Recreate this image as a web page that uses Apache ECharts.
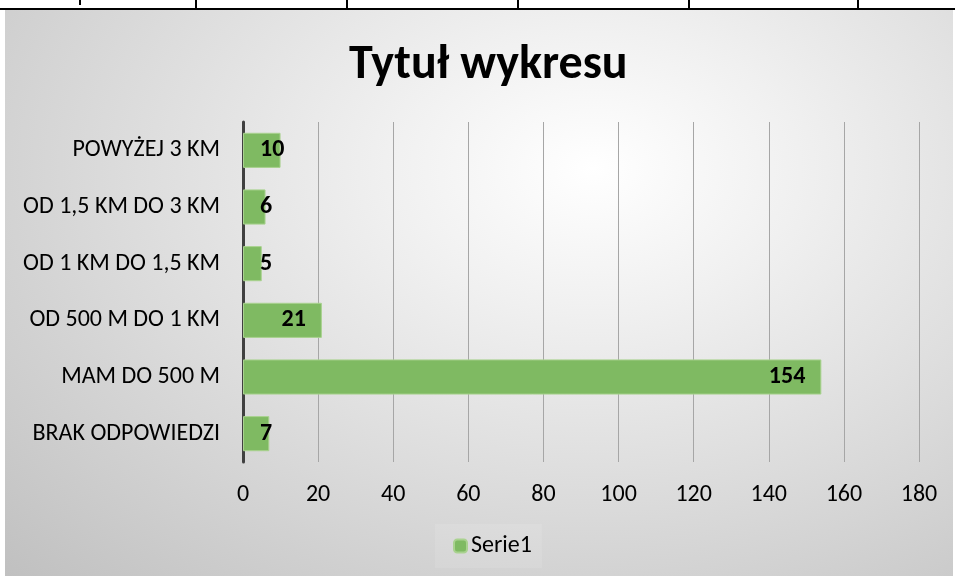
<!DOCTYPE html>
<html>
<head>
<meta charset="utf-8">
<script src="https://cdn.jsdelivr.net/npm/echarts@6/dist/echarts.min.js"></script>
<style>
  html, body { margin: 0; padding: 0; background: #fff; }
  body { width: 955px; height: 576px; position: relative; overflow: hidden; }
  /* sheet row above the chart */
  .row { position: absolute; left: 0; top: 0; width: 955px; height: 8px; border-bottom: 2px solid #000; }
  .row i { position: absolute; top: 0; height: 8px; border-left: 2px solid #000; }
  #chart {
    position: absolute; left: 5px; top: 10px; width: 948px; height: 566px;
    background: radial-gradient(ellipse at 62% 28%, #ffffff 0%, #f0f0f0 25%, #c0c0c0 100%);
  }
</style>
</head>
<body>
<div class="row">
  <i style="left:79px;height:5px"></i>
  <i style="left:195px"></i>
  <i style="left:346px"></i>
  <i style="left:517px"></i>
  <i style="left:688px"></i>
  <i style="left:857px"></i>
</div>
<div id="chart"></div>
<script>
const categories = ['BRAK ODPOWIEDZI', 'MAM DO 500 M', 'OD 500 M DO 1 KM', 'OD 1 KM DO 1,5 KM', 'OD 1,5 KM DO 3 KM', 'POWYŻEJ 3 KM'];
const values = [7, 154, 21, 5, 6, 10];
const seriesName = 'Serie1';
const titleText = 'Tytuł wykresu';

const font = 'Carlito, Lato, "Open Sans", sans-serif';

const chart = echarts.init(document.getElementById('chart'));

// short bars: label starts next to the axis, like Excel does
const barData = values.map((v) => ({
  value: v,
  label: v < 12 ? { position: 'insideLeft', distance: 17 } : undefined,
}));

const option = {
  animation: false,
  backgroundColor: 'transparent',
  title: {
    text: titleText,
    left: 339,
    top: 27,
    textStyle: { fontFamily: font, fontSize: 48, fontWeight: 'bold', color: '#000' },
  },
  legend: {
    data: [seriesName],
    bottom: 8,
    left: 430,
    itemWidth: 13,
    itemHeight: 13,
    itemGap: 6,
    padding: [10, 10, 10, 18],
    backgroundColor: 'rgba(255,255,255,0.1)',
    textStyle: { fontFamily: font, fontSize: 24, color: '#000', padding: [0, 0, 0, -1] },
  },
  grid: { left: 238, right: 34, top: 112, bottom: 114 },
  xAxis: {
    type: 'value',
    min: 0,
    max: 180,
    interval: 20,
    axisLine: { show: false },
    axisTick: { show: false },
    axisLabel: { fontFamily: font, fontSize: 24, color: '#000', margin: 21 },
    splitLine: { lineStyle: { color: '#a6a6a6', width: 1 } },
  },
  yAxis: {
    type: 'category',
    data: categories,
    axisLine: { lineStyle: { color: '#404040', width: 3 } },
    axisTick: { show: false },
    axisLabel: { fontFamily: font, fontSize: 24, color: '#000', margin: 23 },
  },
  series: [
    {
      name: seriesName,
      type: 'bar',
      data: barData,
      barCategoryGap: '38%',
      itemStyle: { color: '#7fba62', borderColor: '#a9d28f', borderWidth: 1 },
      label: {
        show: true,
        position: 'insideRight',
        distance: 16,
        fontFamily: font,
        fontSize: 24,
        fontWeight: 'bold',
        color: '#000',
      },
    },
  ],
};

chart.setOption(option);
</script>
</body>
</html>
